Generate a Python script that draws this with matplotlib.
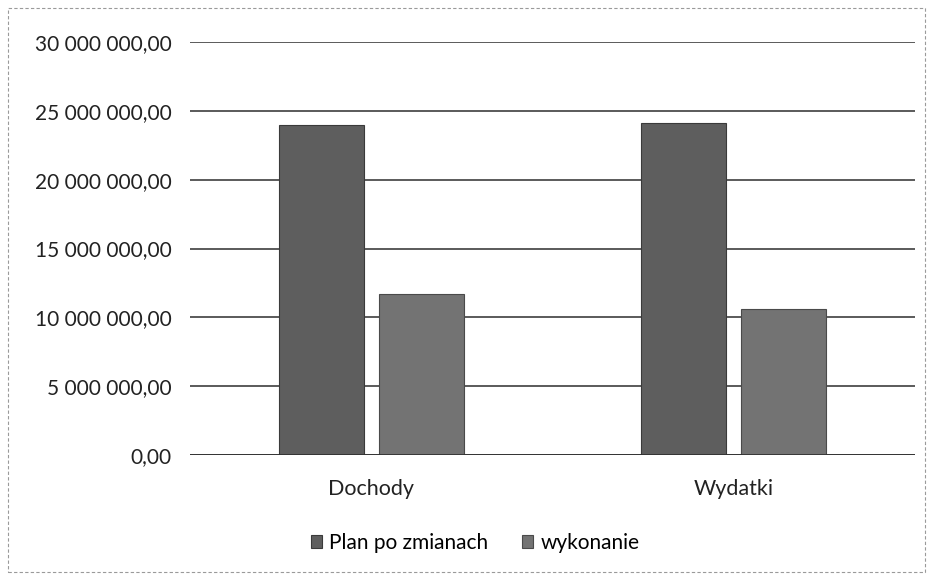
import matplotlib
matplotlib.use("Agg")
import matplotlib.pyplot as plt
from matplotlib.ticker import FuncFormatter, MultipleLocator
from matplotlib.patches import Rectangle
import numpy as np

categories = ["Dochody", "Wydatki"]
plan_po_zmianach = [24_000_000, 24_150_000]
wykonanie = [11_700_000, 10_600_000]
series_labels = ["Plan po zmianach", "wykonanie"]

plt.rcParams["font.family"] = ["Lato", "DejaVu Sans"]


def pl_format(v, pos):
    s = f"{v:,.2f}"
    return s.replace(",", " ").replace(".", ",")


fig = plt.figure(figsize=(9.32, 5.8), dpi=100)
ax = fig.add_axes([190 / 932, 1 - 455 / 580, 725 / 932, 413 / 580])

x = np.arange(len(categories))
w = 0.235
off = 0.138
ax.bar(x - off, plan_po_zmianach, width=w, color="#5e5e5e",
       edgecolor="#3a3a3a", linewidth=0.8, label=series_labels[0], zorder=3)
ax.bar(x + off, wykonanie, width=w, color="#737373",
       edgecolor="#4a4a4a", linewidth=0.8, label=series_labels[1], zorder=3)

ax.set_xlim(-0.5, 1.5)
ax.set_ylim(0, 30_000_000)
ax.yaxis.set_major_locator(MultipleLocator(5_000_000))
ax.yaxis.set_major_formatter(FuncFormatter(pl_format))
ax.grid(axis="y", color="#2e2e2e", linewidth=1.1, zorder=0)
ax.set_xticks(x)
ax.set_xticklabels(categories, fontsize=15.5)
ax.tick_params(axis="y", labelsize=15)
ax.tick_params(axis="both", length=0, colors="#222222")
ax.tick_params(axis="x", pad=17)
ax.tick_params(axis="y", pad=13)
for s in ax.spines.values():
    s.set_visible(False)
ax.axhline(0, color="#2e2e2e", linewidth=1.2, zorder=4)

fig.legend(loc="center", bbox_to_anchor=(475 / 932, 1 - 543 / 580), ncol=2,
           frameon=False, fontsize=15, handlelength=0.55, handleheight=0.55,
           handletextpad=0.35, columnspacing=1.6)

fig.patches.append(Rectangle((8 / 932, 8 / 580), 917 / 932, 564 / 580,
                             transform=fig.transFigure, fill=False,
                             edgecolor="#9a9a9a", linewidth=0.8,
                             linestyle=(0, (3, 2))))

fig.savefig("out.png", dpi=100, facecolor="white")
